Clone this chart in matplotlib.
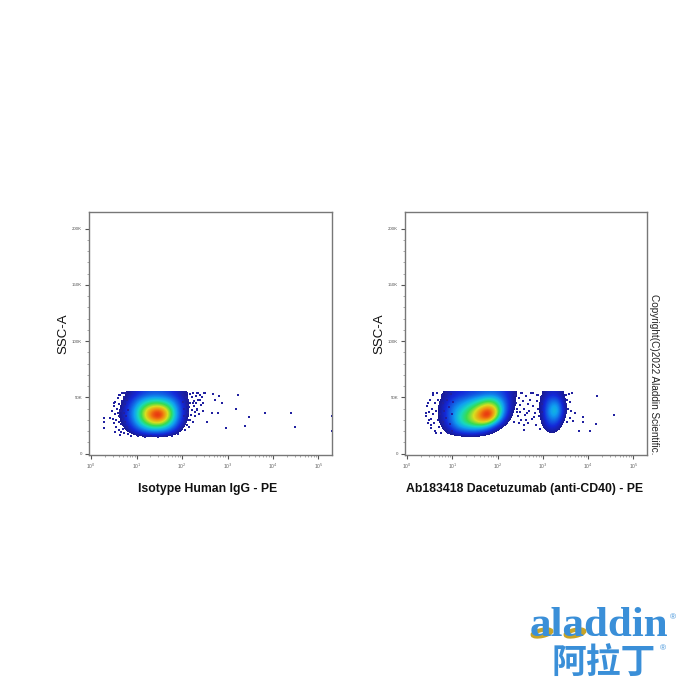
import matplotlib
matplotlib.use('Agg')
import matplotlib.pyplot as plt
import numpy as np
from matplotlib.colors import LinearSegmentedColormap
from matplotlib.patches import Ellipse

# density, rows top (55K) to bottom, columns log10(PE)
log_x_start = 0.225
log_x_step = 0.15
y_top = 55
y_bottom = 10

density_isotype = [
    [0, 0, 2, 5, 10, 14, 18, 20, 20, 18, 14, 10, 6, 4, 2, 1],
    [0, 1, 3, 8, 15, 24, 32, 36, 36, 32, 24, 14, 7, 3, 2, 1],
    [0, 1, 4, 10, 20, 34, 48, 58, 58, 50, 34, 18, 8, 3, 1, 1],
    [0, 2, 5, 12, 24, 42, 65, 85, 92, 70, 42, 20, 8, 2, 1, 0],
    [0, 2, 5, 12, 24, 42, 66, 90, 100, 72, 42, 20, 7, 2, 0, 0],
    [0, 1, 4, 10, 20, 36, 52, 66, 68, 54, 34, 16, 5, 1, 0, 0],
    [0, 0, 2, 7, 14, 24, 34, 40, 40, 34, 22, 10, 3, 0, 0, 0],
    [0, 0, 1, 3, 7, 11, 15, 17, 17, 14, 9, 4, 1, 0, 0, 0],
    [0, 0, 0, 0, 0, 0, 0, 0, 0, 0, 0, 0, 0, 0, 0, 0],
]

density_cd40 = [
    [0, 1, 2, 5, 9, 12, 14, 16, 18, 20, 22, 22, 18, 12, 7, 3, 2, 2, 6, 12, 12, 7, 2, 0],
    [0, 1, 3, 6, 12, 18, 22, 26, 32, 38, 44, 40, 26, 14, 6, 3, 2, 3, 8, 20, 22, 9, 2, 0],
    [0, 1, 3, 8, 15, 24, 30, 38, 46, 58, 68, 58, 34, 14, 6, 2, 2, 3, 9, 26, 34, 11, 2, 0],
    [0, 1, 3, 8, 17, 28, 38, 48, 62, 82, 95, 74, 36, 13, 4, 2, 1, 3, 9, 30, 40, 12, 2, 0],
    [0, 1, 3, 8, 17, 30, 42, 54, 68, 88, 100, 66, 28, 9, 3, 1, 1, 2, 8, 27, 32, 9, 1, 0],
    [0, 0, 3, 7, 15, 28, 40, 50, 60, 68, 60, 36, 15, 5, 2, 1, 0, 2, 7, 20, 20, 6, 1, 0],
    [0, 0, 2, 5, 11, 20, 28, 32, 34, 32, 24, 12, 5, 2, 1, 0, 0, 1, 5, 13, 12, 3, 0, 0],
    [0, 0, 1, 3, 6, 10, 13, 15, 15, 12, 8, 4, 2, 1, 0, 0, 0, 0, 2, 6, 5, 1, 0, 0],
    [0] * 24,
]

# single events outside the dense area
isotype_x = [3.24, 3.19, 3.48, 3.82, 4.39, 4.48, 3.38, 2.97, 5.29, 5.29, 2.87, 2.80,
             2.65, 2.54, 2.82, 2.69, 2.51, 2.73, 0.27, 0.27, 0.27, 0.42, 0.49, 0.53,
             0.64, 0.71, 0.60, 2.32, 2.25, 2.40, 2.47, 2.32, 2.18, 2.29, 2.10,
             0.45, 0.47, 0.50, 0.50, 0.52, 0.53, 0.55, 0.55, 0.57, 0.58, 0.58, 0.60,
             0.60, 0.62, 0.62, 0.63, 0.65, 0.65, 0.66, 0.67, 0.68, 0.69, 0.70, 0.70,
             0.72, 0.72, 0.73, 0.74, 0.75, 0.76, 0.77, 0.78, 0.79, 0.80, 0.80,
             2.02, 2.03, 2.04, 2.05, 2.06, 2.07, 2.08, 2.10, 2.11, 2.12, 2.13, 2.14,
             2.15, 2.16, 2.17, 2.18, 2.20, 2.21, 2.22, 2.23, 2.24, 2.26, 2.27, 2.28,
             2.30, 2.31, 2.33, 2.34, 2.36, 2.37, 2.39, 2.41, 2.43, 2.45, 2.48,
             0.88, 1.02, 1.18, 1.32, 1.48, 1.62, 1.78, 1.92]
isotype_y = [52.0, 39.6, 32.8, 35.7, 36.3, 23.9, 24.8, 22.4, 33.0, 20.0, 44.6, 35.7,
             35.7, 27.7, 51.2, 53.0, 54.0, 47.6, 31.3, 28.3, 22.4, 31.3, 44.6, 19.4,
             16.5, 53.5, 52.0, 53.5, 44.6, 47.6, 44.6, 38.7, 29.8, 37.2, 25.4,
             38, 31, 42, 27, 35, 46, 30, 24, 40, 49, 36, 21,
             28, 44, 33, 52, 19, 38, 26, 47, 54, 31, 42, 22,
             50, 36, 18, 28, 44, 54, 33, 24, 48, 39, 17,
             52, 46, 40, 33, 27, 21, 50, 43, 54, 36, 30, 48,
             24, 41, 53, 45, 34, 50, 39, 28, 54, 47, 42, 33,
             51, 45, 40, 54, 48, 35, 52, 43, 50, 38, 54,
             16, 15.5, 15, 15.5, 15, 15.5, 16, 17]

cd40_x = [4.19, 4.56, 4.18, 4.03, 3.80, 3.88, 3.88, 3.66, 3.71, 2.58, 2.73, 2.87,
          2.65, 2.80, 2.62, 2.43, 2.51, 2.36, 0.42, 0.45, 0.53, 0.56, 0.49, 0.64,
          0.42, 0.44, 0.46, 0.48, 0.50, 0.52, 0.53, 0.55, 0.56, 0.58, 0.59, 0.61,
          0.62, 0.64, 0.65, 0.67, 0.68, 0.70, 0.71, 0.73, 0.75, 0.76, 0.78, 0.79,
          0.81, 0.83, 0.85, 0.86, 0.88, 0.90, 0.92, 0.94, 0.96, 0.98, 1.00, 1.02,
          2.38, 2.40, 2.42, 2.44, 2.46, 2.47, 2.49, 2.50, 2.52, 2.54, 2.55, 2.57,
          2.59, 2.60, 2.63, 2.66, 2.68, 2.70, 2.72, 2.75, 2.77, 2.79, 2.82, 2.84,
          2.86, 2.88, 2.90, 2.92, 2.94, 2.96, 2.97, 2.98, 2.99,
          3.50, 3.51, 3.52, 3.53, 3.54, 3.56, 3.57, 3.59, 3.60, 3.62, 3.64]
cd40_y = [51.5, 34.3, 26.0, 20.3, 20.3, 32.8, 28.3, 28.9, 35.7, 20.9, 53.5, 52.0,
          35.7, 32.8, 29.8, 37.2, 53.5, 28.3, 35.7, 44.6, 25.4, 53.5, 29.8, 18.0,
          33, 42, 27, 37, 48, 31, 23, 40, 52, 35, 27, 45,
          20, 38, 54, 30, 48, 24, 42, 35, 18, 52, 28, 45,
          38, 22, 54, 32, 48, 18, 41, 26, 53, 35, 20, 46,
          52, 45, 40, 33, 27, 49, 37, 43, 30, 54, 47, 25,
          40, 34, 51, 44, 27, 38, 48, 31, 54, 42, 36, 25,
          47, 52, 40, 33, 22, 50, 44, 37, 28,
          52, 44, 36, 28, 48, 40, 53, 32, 46, 38, 54]

x_decades = [0, 1, 2, 3, 4, 5]
x_tick_labels = ['10$^{0}$', '10$^{1}$', '10$^{2}$', '10$^{3}$', '10$^{4}$', '10$^{5}$']
y_ticks = [0, 50, 100, 150, 200]
y_tick_labels = ['0', '50K', '100K', '150K', '200K']

plt.rcParams['font.family'] = ['Liberation Sans', 'DejaVu Sans']

flow_cmap = LinearSegmentedColormap.from_list('flow', [
    (0.0, '#ffffff'), (0.059, '#ffffff'), (0.06, '#1a1a90'), (0.14, '#1428d8'),
    (0.30, '#10a0f0'), (0.40, '#18d8c0'), (0.50, '#38dc50'), (0.64, '#d8e020'),
    (0.78, '#f09010'), (0.95, '#e82010'), (1.0, '#d81010'),
])


def draw_panel(ax, density, xs, ys, xlabel, label_x):
    density = np.array(density)
    x_end = log_x_start + log_x_step * density.shape[1]
    ax.imshow(density, cmap=flow_cmap, vmin=0, vmax=100, aspect='auto',
              extent=(log_x_start, x_end, y_bottom, y_top),
              interpolation='bicubic', interpolation_stage='data', zorder=1)
    ax.scatter(xs, ys, s=0.8, c='#2020a0', marker='s', linewidths=0, zorder=2)

    ax.set_xlim(-0.05, 5.3)
    ax.set_ylim(-1.3, 214.8)
    ax.set_xticks(x_decades)
    ax.set_xticklabels(x_tick_labels, fontsize=3.6, color='#666666')
    minor = [d + np.log10(m) for d in x_decades for m in range(2, 10)]
    ax.set_xticks([v for v in minor if v < 5.3], minor=True)
    ax.set_yticks(y_ticks)
    ax.set_yticklabels(y_tick_labels, fontsize=3.2, color='#555555')
    ax.set_yticks(np.arange(0, 201, 10), minor=True)
    ax.tick_params(which='major', length=3, width=0.8, color='#555555', pad=2)
    ax.tick_params(which='minor', length=1.5, width=0.5, color='#888888')
    for spine in ax.spines.values():
        spine.set_color('#777777')
        spine.set_linewidth(1.0)
    ax.set_xlabel(xlabel, fontsize=8.8, fontweight='bold', labelpad=8.5, color='#111111',
                  x=label_x)
    ax.set_ylabel('SSC-A', fontsize=9.5, labelpad=2, color='#111111')


fig = plt.figure(figsize=(7, 7), dpi=100, facecolor='white')
ax1 = fig.add_axes([89 / 700, 1 - 455 / 700, 243 / 700, 243 / 700])
ax2 = fig.add_axes([405 / 700, 1 - 455 / 700, 242 / 700, 243 / 700])
draw_panel(ax1, density_isotype, isotype_x, isotype_y, 'Isotype Human IgG - PE', 0.488)
draw_panel(ax2, density_cd40, cd40_x, cd40_y, 'Ab183418 Dacetuzumab (anti-CD40) - PE', 0.494)

fig.text(654 / 700, 1 - 374 / 700, 'Copyright(C)2022 Aladdin Scientific.', rotation=270,
         fontsize=7.2, ha='center', va='center', color='#222222')

# logo
logo_blue = '#3a8fd8'
fig.text(598.5 / 700, 1 - 626 / 700, 'aladdin', family='Liberation Serif', fontsize=31,
         fontweight='bold', color=logo_blue, ha='center', va='center')
fig.text(604 / 700, 1 - 663 / 700, '阿拉丁', family=['Noto Sans CJK SC', 'DejaVu Sans'],
         fontsize=25, fontweight='bold', color=logo_blue, ha='center', va='center')
fig.text(673 / 700, 1 - 618 / 700, '®', fontsize=6, color=logo_blue, ha='center', va='center')
fig.text(663 / 700, 1 - 649 / 700, '®', fontsize=6, color=logo_blue, ha='center', va='center')
logo_ax = fig.add_axes([0, 0, 1, 1], facecolor='none')
logo_ax.set_xlim(0, 700)
logo_ax.set_ylim(700, 0)
logo_ax.axis('off')
for cx in (542, 575):
    logo_ax.add_patch(Ellipse((cx, 633), 19, 6, angle=-12, fill=False,
                              edgecolor='#c8a428', linewidth=3))

fig.savefig('out.png', dpi=100)
